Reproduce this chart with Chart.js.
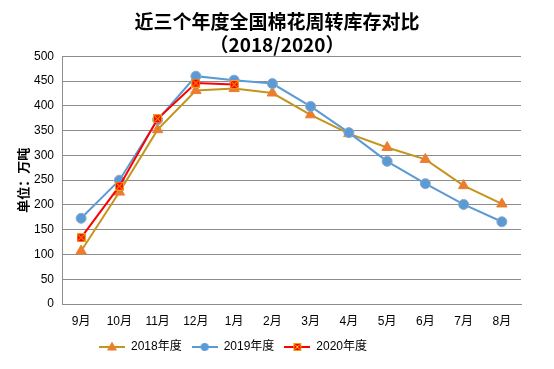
<!DOCTYPE html>
<html>
<head>
<meta charset="utf-8">
<script src="https://cdn.jsdelivr.net/npm/chart.js@4/dist/chart.umd.min.js"></script>
<style>
  html, body { margin: 0; padding: 0; background: #fff; }
  #wrap { width: 554px; height: 369px; }
</style>
</head>
<body>
<div id="wrap"><canvas id="c" width="554" height="369"></canvas></div>
<script>
const titleLines = ['近三个年度全国棉花周转库存对比', '（2018/2020）'];
const yAxisTitle = '单位：万吨';
const categories = ['9月', '10月', '11月', '12月', '1月', '2月', '3月', '4月', '5月', '6月', '7月', '8月'];
const seriesNames = ['2018年度', '2019年度', '2020年度'];
const values2018 = [107, 226, 352, 431, 435, 426, 382, 344, 316, 292, 239, 202];
const values2019 = [173, 250, 372, 460, 452, 445, 399, 346, 288, 243, 201, 166];
const values2020 = [134, 238, 374, 446, 443];
const yMin = 0, yMax = 500, yStep = 50;

const C2018 = '#C4951C', C2018M = '#EB7E2E';
const C2019 = '#5B9BD5', C2019B = '#8CA9C8';
const C2020 = '#FF0000';

function squareX(size) {
  const c = document.createElement('canvas');
  c.width = size; c.height = size;
  const g = c.getContext('2d');
  g.fillStyle = '#FF0000';
  g.fillRect(0, 0, size, size);
  g.strokeStyle = '#E8A020';
  g.lineWidth = 1;
  g.strokeRect(0.5, 0.5, size - 1, size - 1);
  g.strokeStyle = '#FFD200';
  g.beginPath();
  g.moveTo(1.5, 1.5); g.lineTo(size - 1.5, size - 1.5);
  g.moveTo(size - 1.5, 1.5); g.lineTo(1.5, size - 1.5);
  g.stroke();
  return c;
}

function legendIcon(kind) {
  const w = 26, h = 12;
  const c = document.createElement('canvas');
  c.width = w; c.height = h;
  const g = c.getContext('2d');
  const col = kind === 0 ? C2018 : kind === 1 ? C2019 : C2020;
  g.strokeStyle = col;
  g.lineWidth = 2;
  g.beginPath(); g.moveTo(0, 6); g.lineTo(w, 6); g.stroke();
  if (kind === 0) {
    g.fillStyle = C2018M;
    g.beginPath(); g.moveTo(13, 0.5); g.lineTo(18, 9.5); g.lineTo(8, 9.5); g.closePath(); g.fill();
  } else if (kind === 1) {
    g.fillStyle = C2019;
    g.beginPath(); g.arc(13, 6, 4, 0, Math.PI * 2); g.fill();
  } else {
    g.drawImage(squareX(8), 9, 2);
  }
  return c;
}

const legendIcons = [legendIcon(0), legendIcon(1), legendIcon(2)];

const shiftLegend = {
  id: 'shiftLegend',
  afterLayout(chart) {
    const lg = chart.legend;
    if (lg) { lg.left -= 44; lg.right -= 44; }
  }
};

const gridCol = '#8C8C8C';
const latin = '"Liberation Sans", "Noto Sans CJK SC", sans-serif';

new Chart(document.getElementById('c'), {
  type: 'line',
  data: {
    labels: categories,
    datasets: [
      {
        label: seriesNames[0], data: values2018, order: 3,
        borderColor: C2018, borderWidth: 2,
        pointStyle: 'triangle', pointRadius: 6,
        pointBackgroundColor: C2018M, pointBorderColor: C2018M, pointBorderWidth: 1,
        tension: 0
      },
      {
        label: seriesNames[1], data: values2019, order: 2,
        borderColor: C2019, borderWidth: 2,
        pointStyle: 'circle', pointRadius: 5,
        pointBackgroundColor: C2019, pointBorderColor: C2019B, pointBorderWidth: 1,
        tension: 0
      },
      {
        label: seriesNames[2], data: values2020, order: 1,
        borderColor: C2020, borderWidth: 2,
        pointStyle: squareX(9), pointRadius: 5,
        tension: 0
      }
    ]
  },
  options: {
    responsive: false,
    animation: false,
    events: [],
    layout: { padding: { left: 0, right: 0, top: 0, bottom: 6 } },
    plugins: {
      title: {
        display: true,
        text: titleLines,
        color: '#000',
        font: { family: '"Noto Sans CJK SC", sans-serif', size: 19, weight: 'bold', lineHeight: 1.22 },
        padding: { top: 10, bottom: 0 }
      },
      legend: {
        position: 'bottom',
        labels: {
          usePointStyle: true,
          pointStyleWidth: 26,
          padding: 10,
          color: '#000',
          font: { family: latin, size: 12 },
          generateLabels(chart) {
            return chart.data.datasets.map((ds, i) => ({
              text: ds.label,
              pointStyle: legendIcons[i],
              fillStyle: 'rgba(0,0,0,0)',
              strokeStyle: 'rgba(0,0,0,0)',
              lineWidth: 0,
              hidden: false,
              datasetIndex: i,
              fontColor: '#000'
            }));
          }
        }
      },
      tooltip: { enabled: false }
    },
    scales: {
      x: {
        offset: true,
        grid: { display: false, drawTicks: false },
        border: { display: true, color: gridCol, width: 1 },
        ticks: { color: '#000', font: { family: latin, size: 12 }, padding: 10, maxRotation: 0, autoSkip: false },
        afterFit(scale) { scale.height = 27; }
      },
      y: {
        min: yMin, max: yMax,
        grid: { color: gridCol, lineWidth: 1, drawTicks: false },
        border: { display: true, color: gridCol, width: 1 },
        ticks: { stepSize: yStep, color: '#000', font: { family: latin, size: 12 }, padding: 8 },
        title: {
          display: true, text: yAxisTitle, color: '#000',
          font: { family: '"Noto Sans CJK SC", sans-serif', size: 13, weight: 'bold' },
          padding: { top: 15, bottom: 0 }
        },
        afterFit(scale) { scale.width = 62; }
      },
      yRight: {
        position: 'right',
        display: true,
        grid: { display: false, drawTicks: false },
        border: { display: false },
        ticks: { display: false },
        afterFit(scale) { scale.width = 33; }
      }
    }
  },
  plugins: [shiftLegend]
});
</script>
</body>
</html>
